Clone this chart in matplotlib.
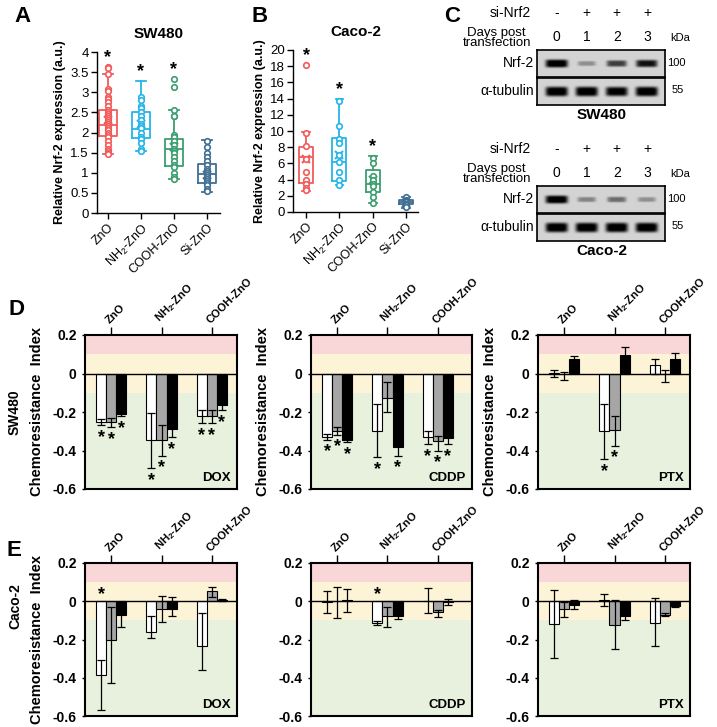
import numpy as np
import matplotlib
matplotlib.use('Agg')
import matplotlib.pyplot as plt
from matplotlib.transforms import blended_transform_factory

plt.rcParams['font.family'] = ['Liberation Sans', 'DejaVu Sans']
plt.rcParams['mathtext.fontset'] = 'custom'
plt.rcParams['mathtext.rm'] = 'Liberation Sans'
plt.rcParams['mathtext.bf'] = 'Liberation Sans:bold'
plt.rcParams['mathtext.it'] = 'Liberation Sans:italic'

# ---------------- data: panels A and B (box plots) ----------------
groups_ab = ['ZnO', 'NH$_2$-ZnO', 'COOH-ZnO', 'Si-ZnO']
box_colors = ['#f25a5a', '#25b5e9', '#3c9e6f', '#3f6e93']

a_points = [
    [3.62, 3.60, 3.45, 3.07, 3.02, 2.88, 2.82, 2.75, 2.65, 2.55, 2.50, 2.45, 2.40, 2.35,
     2.30, 2.25, 2.20, 2.15, 2.10, 2.05, 2.00, 1.95, 1.90, 1.80, 1.70, 1.60, 1.55, 1.50, 1.47],
    [2.87, 2.80, 2.65, 2.60, 2.50, 2.40, 2.30, 2.20, 2.15, 2.10, 2.00, 1.90, 1.85, 1.75,
     1.60, 1.55],
    [3.33, 3.12, 2.55, 2.42, 2.40, 1.95, 1.90, 1.80, 1.70, 1.60, 1.55, 1.50, 1.40, 1.30,
     1.20, 1.15, 1.00, 0.90, 0.85],
    [1.80, 1.65, 1.50, 1.40, 1.30, 1.20, 1.10, 1.05, 1.00, 0.95, 0.90, 0.85, 0.80, 0.75,
     0.70, 0.60, 0.55],
]
a_q1 = [1.92, 1.86, 1.17, 0.74]
a_med = [2.19, 2.08, 1.60, 0.98]
a_q3 = [2.55, 2.50, 1.83, 1.21]
a_lo = [1.47, 1.55, 0.85, 0.53]
a_hi = [3.45, 3.28, 2.57, 1.81]
a_mean = [2.30, 2.20, 1.65, 0.95]
a_sig = [1, 1, 1, 0]

b_points = [
    [18.2, 9.8, 8.1, 6.6, 5.0, 4.0, 3.4, 3.0, 2.7],
    [13.7, 10.6, 9.0, 8.5, 7.0, 6.2, 5.0, 4.0, 3.3],
    [6.7, 6.1, 4.5, 4.0, 3.5, 3.2, 2.5, 1.8, 1.1],
    [1.8, 1.5, 1.3, 1.2, 1.0, 0.9, 0.6],
]
b_q1 = [3.6, 3.8, 2.5, 0.95]
b_med = [6.8, 6.2, 3.5, 1.2]
b_q3 = [8.0, 9.1, 5.15, 1.45]
b_lo = [2.6, 3.3, 1.1, 0.55]
b_hi = [9.9, 13.9, 6.9, 1.85]
b_mean = [6.5, 7.0, 3.9, 1.15]
b_sig = [1, 1, 1, 0]

# ---------------- data: panel C (western blots) ----------------
si_marks = ['-', '+', '+', '+']
days = ['0', '1', '2', '3']
sw_nrf2 = [1.0, 0.3, 0.65, 0.85]
sw_tub = [1.0, 1.0, 0.95, 1.0]
caco_nrf2 = [1.0, 0.35, 0.45, 0.3]
caco_tub = [1.0, 1.0, 1.0, 1.0]

# ---------------- data: panels D and E (chemoresistance index) ----------------
groups_de = ['ZnO', r'NH$_\mathbf{2}$-ZnO', 'COOH-ZnO']
drugs = ['DOX', 'CDDP', 'PTX']

# rows = nanoparticle, cols = white / grey / black bar
d_val = [
    [[-0.252, -0.250, -0.209], [-0.348, -0.344, -0.290], [-0.223, -0.223, -0.165]],
    [[-0.330, -0.300, -0.344], [-0.300, -0.125, -0.383], [-0.330, -0.351, -0.334]],
    [[0.003, -0.005, 0.075], [-0.300, -0.295, 0.095], [0.042, -0.005, 0.075]],
]
d_lo = [
    [[0.018, 0.028, 0.014], [0.142, 0.082, 0.040], [0.034, 0.034, 0.026]],
    [[0.014, 0.018, 0.013], [0.135, 0.075, 0.043], [0.035, 0.049, 0.031]],
    [[0.019, 0.028, 0.018], [0.145, 0.080, 0.042], [0.047, 0.040, 0.032]],
]
d_hi = [
    [[0.017, 0.020, 0.009], [0.143, 0.074, 0.040], [0.035, 0.035, 0.021]],
    [[0.017, 0.020, 0.010], [0.140, 0.082, 0.040], [0.030, 0.024, 0.034]],
    [[0.016, 0.015, 0.018], [0.140, 0.075, 0.042], [0.033, 0.025, 0.032]],
]
d_sig = [
    [[1, 1, 1], [1, 1, 1], [1, 1, 1]],
    [[1, 1, 1], [1, 0, 1], [1, 1, 1]],
    [[0, 0, 0], [1, 1, 0], [0, 0, 0]],
]

e_val = [
    [[-0.388, -0.205, -0.070], [-0.160, -0.040, -0.043], [-0.235, 0.052, 0.008]],
    [[-0.003, 0.000, 0.005], [-0.116, -0.075, -0.075], [0.003, -0.058, -0.002]],
    [[-0.117, -0.043, -0.017], [0.008, -0.122, -0.075], [-0.113, -0.070, -0.023]],
]
e_lo = [
    [[0.181, 0.221, 0.064], [0.030, 0.068, 0.032], [0.125, 0.029, 0.005]],
    [[0.060, 0.088, 0.063], [0.007, 0.058, 0.018], [0.066, 0.022, 0.020]],
    [[0.179, 0.039, 0.023], [0.034, 0.127, 0.021], [0.122, 0.008, 0.008]],
]
e_hi = [
    [[0.080, 0.175, 0.040], [0.085, 0.070, 0.066], [0.175, 0.023, 0.005]],
    [[0.056, 0.074, 0.060], [0.011, 0.045, 0.045], [0.067, 0.013, 0.014]],
    [[0.178, 0.039, 0.022], [0.032, 0.127, 0.021], [0.130, 0.008, 0.008]],
]
e_sig = [
    [[1, 0, 0], [0, 0, 0], [0, 0, 0]],
    [[0, 0, 0], [1, 0, 0], [0, 0, 0]],
    [[0, 0, 0], [0, 0, 0], [0, 0, 0]],
]

# ---------------- figure ----------------
W, H = 717, 727
fig = plt.figure(figsize=(W / 100, H / 100), dpi=100)


def px_ax(l, t, r, b):
    return fig.add_axes([l / W, 1 - b / H, (r - l) / W, (b - t) / H])


def fx(x):
    return x / W


def fy(y):
    return 1 - y / H


def box_panel(ax, pts, q1, med, q3, lo, hi, mean, sig, width, ymax, ystep, title):
    for i in range(len(pts)):
        c = box_colors[i]
        st = dict(q1=q1[i], med=med[i], q3=q3[i], whislo=lo[i], whishi=hi[i],
                  mean=mean[i], fliers=[])
        ax.bxp([st], positions=[i], widths=width, capwidths=width * 0.55,
               showmeans=True, showfliers=False,
               boxprops=dict(color=c, lw=1.3), whiskerprops=dict(color=c, lw=1.3),
               capprops=dict(color=c, lw=1.3), medianprops=dict(color=c, lw=1.3),
               meanprops=dict(marker='x', markeredgecolor=c, markersize=6, mew=1.5),
               zorder=2)
        ax.plot([i] * len(pts[i]), pts[i], 'o', mfc='white', mec=c, ms=4.0, mew=1.2,
                zorder=3)
        if sig[i]:
            top = max(max(pts[i]), hi[i])
            ax.text(i, top + ymax * 0.03, '*', ha='center', va='baseline',
                    fontsize=13, fontweight='bold')
    ax.set_ylim(0, ymax)
    ax.set_yticks(np.arange(0, ymax + 1e-9, ystep))
    ax.set_yticklabels(['%g' % v for v in np.arange(0, ymax + 1e-9, ystep)], fontsize=9.5)
    ax.set_xticks(range(len(pts)))
    ax.set_xticklabels(groups_ab, rotation=45, ha='right', rotation_mode='anchor',
                       fontsize=9)
    ax.spines['top'].set_visible(False)
    ax.spines['right'].set_visible(False)
    for s in ['left', 'bottom']:
        ax.spines[s].set_linewidth(1.0)
    ax.tick_params(length=4, width=1, pad=2)
    ax.set_ylabel('Relative Nrf-2 expression (a.u.)', fontsize=9, fontweight='bold',
                  labelpad=3)
    ax.set_title(title, fontsize=11, fontweight='bold', pad=10)


# Panel A
axA = px_ax(97, 52, 220, 213)
box_panel(axA, a_points, a_q1, a_med, a_q3, a_lo, a_hi, a_mean, a_sig, 0.55, 4, 0.5,
          'SW480')
axA.set_xlim(-0.33, 3.4)

# Panel B
axB = px_ax(293, 50, 418, 212)
box_panel(axB, b_points, b_q1, b_med, b_q3, b_lo, b_hi, b_mean, b_sig, 0.42, 20, 2,
          'Caco-2')
axB.set_xlim(-0.39, 3.35)


# Panel C
def draw_blot(top, bottom, strength, band_h):
    ax = px_ax(537, top, 665, bottom)
    xs = np.linspace(-0.65, 3.6, 256)
    ys = np.linspace(-1, 1, 48)
    X, Y = np.meshgrid(xs, ys)
    dark = np.zeros_like(X)
    for i, s in enumerate(strength):
        hw = 0.27 + 0.1 * s
        hh = band_h * (0.45 + 0.55 * s)
        dark += s * np.exp(-((X - i) / hw) ** 6 - (Y / hh) ** 4)
    img = 0.83 - 0.83 * np.clip(dark * 1.1, 0, 1)
    ax.imshow(img, cmap='gray', vmin=0, vmax=1, aspect='auto',
              extent=(-0.65, 3.6, -1, 1), interpolation='bilinear')
    ax.set_xlim(-0.65, 3.6)
    ax.set_ylim(-1, 1)
    ax.set_xticks([])
    ax.set_yticks([])
    for sp in ax.spines.values():
        sp.set_linewidth(1.2)
    return ax


def blot_block(base, nrf2, tub, cell):
    ax1 = draw_blot(base + 50, base + 77, nrf2, 0.3)
    draw_blot(base + 78, base + 105, tub, 0.36)
    tr = blended_transform_factory(ax1.transData, fig.transFigure)
    for i in range(4):
        ax1.text(i, fy(base + 13), si_marks[i], transform=tr, ha='center', va='center',
                 fontsize=10)
        ax1.text(i, fy(base + 37), days[i], transform=tr, ha='center', va='center',
                 fontsize=10)
    fig.text(fx(531), fy(base + 13), 'si-Nrf2', ha='right', va='center', fontsize=10)
    fig.text(fx(531), fy(base + 38), 'Days post\ntransfection', ha='right', va='center',
             multialignment='center', fontsize=9.5, linespacing=0.78)
    fig.text(fx(670), fy(base + 38), 'kDa', ha='left', va='center', fontsize=8)
    fig.text(fx(534), fy(base + 63), 'Nrf-2', ha='right', va='center', fontsize=10)
    fig.text(fx(534), fy(base + 91), 'α-tubulin', ha='right', va='center', fontsize=10)
    fig.text(fx(667), fy(base + 63), '100', ha='left', va='center', fontsize=8)
    fig.text(fx(672), fy(base + 90), '55', ha='left', va='center', fontsize=8)
    fig.text(fx(602), fy(base + 115), cell, ha='center', va='center', fontsize=11,
             fontweight='bold')


blot_block(0, sw_nrf2, sw_tub, 'SW480')
blot_block(136, caco_nrf2, caco_tub, 'Caco-2')

# Panels D and E
bar_colors = ['white', '#a6a6a6', 'black']
offsets = [-0.2, 0.0, 0.2]
bw = 0.2
zone_colors = [(0.1, 0.2, '#f9d6d7'), (-0.1, 0.1, '#fdf3d6'), (-0.6, -0.1, '#e8f1de')]


def bar_panel(ax, val, lo, hi, sig, drug, side, ylabel, xmax):
    val = np.array(val)
    lo = np.array(lo)
    hi = np.array(hi)
    for y0, y1, c in zone_colors:
        ax.axhspan(y0, y1, color=c, lw=0, zorder=0)
    ax.axhline(0, color='black', lw=1.0, zorder=5)
    x = np.arange(len(groups_de))
    for j in range(3):
        xs = x + offsets[j]
        ax.bar(xs, val[:, j], width=bw, color=bar_colors[j], edgecolor='black', lw=0.8,
               zorder=3)
        ax.errorbar(xs, val[:, j], yerr=[lo[:, j], hi[:, j]], fmt='none', ecolor='black',
                    elinewidth=0.9, capsize=3, capthick=0.9, zorder=4)
        for g in range(len(groups_de)):
            if sig[g][j]:
                if side == 'below':
                    ys = val[g, j] - lo[g, j] - 0.02
                else:
                    ys = 0.08
                ax.text(xs[g], ys, '*', ha='center', va='top', fontsize=13,
                        fontweight='bold', zorder=6)
    ax.set_xlim(-0.52, xmax)
    ax.set_ylim(-0.6, 0.2)
    ax.set_yticks([0.2, 0, -0.2, -0.4, -0.6])
    ax.set_yticklabels(['0.2', '0', '-0.2', '-0.4', '-0.6'], fontsize=10,
                       fontweight='bold')
    ax.set_xticks(x)
    ax.xaxis.tick_top()
    ax.set_xticklabels(groups_de, rotation=45, ha='left', rotation_mode='anchor',
                       fontsize=8, fontweight='bold')
    ax.tick_params(axis='x', length=6, width=1, pad=1)
    ax.tick_params(axis='y', length=2, width=1, pad=4)
    for sp in ax.spines.values():
        sp.set_linewidth(1.5)
        sp.set_zorder(7)
    ax.text(0.96, 0.03, drug, transform=ax.transAxes, ha='right', va='bottom',
            fontsize=9.5, fontweight='bold', zorder=8)
    if ylabel:
        ax.set_ylabel('Chemoresistance  Index', fontsize=10.5, fontweight='bold')
        ax.yaxis.set_label_coords(-41 / (ax.get_position().width * W), 0.5)


col_lr = [(85, 237), (311, 472), (538, 690)]
col_xmax = [2.5, 2.68, 2.5]
for k in range(3):
    l, r = col_lr[k]
    axd = px_ax(l, 335, r, 489)
    bar_panel(axd, d_val[k], d_lo[k], d_hi[k], d_sig[k], drugs[k], 'below', True,
              col_xmax[k])
    axe = px_ax(l, 563, r, 716)
    bar_panel(axe, e_val[k], e_lo[k], e_hi[k], e_sig[k], drugs[k], 'above', k == 0,
              col_xmax[k])

fig.text(fx(15), fy(412), 'SW480', rotation=90, ha='center', va='center', fontsize=10,
         fontweight='bold')
fig.text(fx(15), fy(606), 'Caco-2', rotation=90, ha='center', va='center', fontsize=10,
         fontweight='bold')

# panel letters
for lab, x, y in [('A', 14, 16), ('B', 251, 16), ('C', 444, 16), ('D', 9, 310),
                  ('E', 7, 550)]:
    fig.text(fx(x), fy(y), lab, ha='left', va='center', fontsize=16, fontweight='bold')

fig.savefig('out.png', dpi=100)
